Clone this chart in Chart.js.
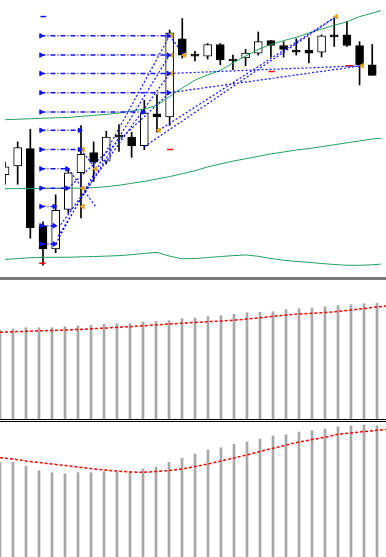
<!DOCTYPE html>
<html>
<head>
<meta charset="utf-8">
<script src="https://cdn.jsdelivr.net/npm/chart.js@4.4.0/dist/chart.umd.min.js"></script>
<style>
html, body { margin: 0; padding: 0; background: #fff; overflow: hidden; }
#wrap { position: relative; width: 386px; height: 557px; }
.pane { position: absolute; left: 0; width: 386px; }
#p1 { top: 0; height: 277px; }
#sep1 { position: absolute; left: 0; top: 277px; width: 386px; height: 3px; background: #7c7c7c; }
#p2 { top: 280px; height: 139px; }
#sep2 { position: absolute; left: 0; top: 419px; width: 386px; height: 1px; border-top: 1px solid #000; border-bottom: 1px solid #000; }
#p3 { top: 422px; height: 135px; }
</style>
</head>
<body>
<div id="wrap">
  <div class="pane" id="p1"><canvas id="price"></canvas></div>
  <div id="sep1"></div>
  <div class="pane" id="p2"><canvas id="ind1"></canvas></div>
  <div id="sep2"></div>
  <div class="pane" id="p3"><canvas id="ind2"></canvas></div>
</div>
<script>
// candles (price in points)
const candleOpen  = [101,110,128,48,24,65,103,124,115,142,140,131,164,161,242,226,224,236,221,222,227,240,235,230,230,228,246,246,235,215];
const candleHigh  = [114,135,148,52,80,107,152,135,146,153,145,178,184,251,263,229,237,237,225,231,249,240,239,242,243,246,263,260,239,236];
const candleLow   = [91,91,35,7,20,61,56,94,112,125,119,127,145,152,222,219,221,215,210,214,225,223,223,225,217,223,234,234,194,204];
const candleClose = [109,129,46,24,64,103,122,114,140,140,131,165,161,248,225,224,236,220,219,227,239,235,231,228,227,245,244,235,215,204];

// envelope lines
const upperBand  = [158,158.5,159,159.5,160,160.3,161.5,162.5,163.5,165,167,169,173,182,191,199,204.5,209,217,224,231,236,240,243.5,248,252,256,259.5,265,268.5,272.5];
const middleBand = [86.5,86.5,86.5,86.7,86.8,87,87,87.5,88.5,90,92,94,96.5,99,102,105,109,112,115,117.5,120,122.5,124.5,126.5,128,130,132,134,136,138,139];
const lowerBand  = [13,14,14.8,15.2,15.3,15.3,15.7,16,16.5,17,18,19.3,20.3,16.5,13.7,14,15,16,17,17.7,16.3,14,12.2,11,10,8.8,7.8,7,7,7.5,8.5];

// arrow levels
const levelStart = 2.8;
const levels    = [245,225,206,186,166,147,127,107,87,68,48,29];
const levelEnds = [13,13,13,13,11,6,6,5,5,4,4,4];

// dotted trend lines [x0, y0, x1, y1]
const trendLines = [
  [4, 29, 13, 245],
  [4.2, 37, 13, 225],
  [4.4, 49, 13, 206],
  [5, 87, 13, 186],
  [5, 107, 7.15, 68],
  [6, 127, 7.15, 107],
  [13, 245, 14.15, 225],
  [13, 206, 28.2, 214],
  [13, 186, 28.2, 214],
  [12.15, 147, 26.15, 265],
  [11, 130, 26.15, 265]
];
const orangeX = [13.15,13.15,13.15,14.15,12.15,6.15,7.15,6.15,6.15,26.15,28.2];
const orangeY = [245,225,206,225,147,127,107,87,68,265,214];
const redMarks = [[12.8,127,13.3,127],[20.8,208,21.3,208],[26.9,214,27.5,214],[2.7,9,3.2,9]];
const topDash = [[2.8,265,3.25,265]];

// lower panels
const osc1Bars = [89,90,91.3,91.3,91.3,92.3,93,93.7,94.7,95.3,95.3,97,97.7,98.3,100.3,101,102.3,103.3,104.7,106.3,106.7,107.3,109.3,110.3,111,112.3,113.3,114.3,115.3,115.7];
const osc1Line = [86.7,87.2,87.7,88.1,88.5,89,89.5,90.2,90.9,91.6,92.3,93.2,94.1,95,95.8,96.5,97.3,98,98.8,100,101.3,102.7,104,105,105.7,106.5,107.5,109,110.5,112,113.5];
const osc2Bars = [94.7,94.7,91,86.3,84.3,83.3,84.3,84.3,85.3,85.3,85.3,88,90,94.7,98.7,103,107,109.3,112.7,115,118,121,122.3,125,126.3,128,130.3,131.3,132,131.3];
const osc2Line = [99.3,98,96,94.5,93,91.5,90,88.5,87,86,85,84.7,85.5,86.5,88,90.5,93,96,99,102.2,105.5,108.7,112,115,117.4,119.7,122.8,124,125.5,126.7,128];

const xMax = 386 / 13;
const pts = arr => arr.map((v, i) => ({x: i, y: v}));
const segs = list => {
  const out = [];
  list.forEach(s => { out.push({x: s[0], y: s[1]}, {x: s[2], y: s[3]}, {x: s[2], y: null}); });
  return out;
};
const BLUE = '#1010ff';
const GREEN = '#23a05e';

const baseOpts = (yMax) => ({
  responsive: true,
  maintainAspectRatio: false,
  animation: false,
  layout: { padding: 0 },
  plugins: { legend: { display: false }, tooltip: { enabled: false } },
  scales: {
    x: { type: 'linear', min: 0, max: xMax, display: false, offset: false },
    y: { type: 'linear', min: 0, max: yMax, display: false }
  }
});

const horiz = levels.map((v, k) => [levelStart, v, levelEnds[k], v]);
const arrowPts = [];
levels.forEach((v, k) => { arrowPts.push({x: levelStart + 0.05, y: v}, {x: levelEnds[k] - 0.1, y: v}); });

new Chart(document.getElementById('price'), {
  type: 'bar',
  data: {
    datasets: [
      {
        type: 'bar', grouped: false, order: 1,
        data: candleLow.map((l, i) => ({x: i, y: [l, candleHigh[i]]})),
        backgroundColor: '#000', barThickness: 1
      },
      {
        type: 'bar', grouped: false, order: 0,
        data: candleOpen.map((o, i) => ({x: i, y: [o, candleClose[i]]})),
        backgroundColor: candleOpen.map((o, i) => candleClose[i] > o ? '#fff' : '#000'),
        borderColor: '#000', borderWidth: 1, borderSkipped: false, barThickness: 8
      },
      { type: 'line', order: -1, data: pts(upperBand), borderColor: GREEN, borderWidth: 1, pointRadius: 0 },
      { type: 'line', order: -1, data: pts(middleBand), borderColor: GREEN, borderWidth: 1, pointRadius: 0 },
      { type: 'line', order: -1, data: pts(lowerBand), borderColor: GREEN, borderWidth: 1, pointRadius: 0 },
      { type: 'line', order: -2, data: segs(horiz), borderColor: BLUE, borderWidth: 1.5, borderDash: [5, 2, 1, 2], pointRadius: 0, spanGaps: false },
      { type: 'line', order: -2, data: segs(trendLines), borderColor: BLUE, borderWidth: 1.2, borderDash: [2, 2], pointRadius: 0, spanGaps: false },
      { type: 'line', order: -2, data: segs(topDash), borderColor: BLUE, borderWidth: 1.5, pointRadius: 0, spanGaps: false },
      { type: 'line', order: -2, data: segs(redMarks), borderColor: '#ff0000', borderWidth: 1.5, pointRadius: 0, spanGaps: false },
      { type: 'line', order: -3, data: arrowPts, showLine: false, pointStyle: 'triangle', rotation: 90, pointRadius: 2.6, backgroundColor: BLUE, borderColor: BLUE, borderWidth: 1 },
      { type: 'line', order: -3, data: orangeX.map((x, k) => ({x: x, y: orangeY[k]})), showLine: false, pointStyle: 'triangle', rotation: -90, pointRadius: 2.6, backgroundColor: '#e8a317', borderColor: '#e8a317', borderWidth: 1 }
    ]
  },
  options: baseOpts(277)
});

function oscChart(id, bars, line, yMax) {
  new Chart(document.getElementById(id), {
    type: 'bar',
    data: {
      datasets: [
        { type: 'bar', order: 1, data: pts(bars), backgroundColor: '#a8a8a8', barThickness: 2 },
        { type: 'line', order: 0, data: pts(line), borderColor: '#ff0000', borderWidth: 1.5, borderDash: [3, 2], pointRadius: 0 }
      ]
    },
    options: baseOpts(yMax)
  });
}
oscChart('ind1', osc1Bars, osc1Line, 139);
oscChart('ind2', osc2Bars, osc2Line, 135);
</script>
</body>
</html>
